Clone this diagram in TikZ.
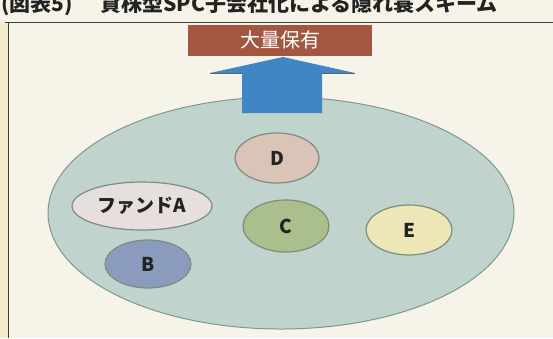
\documentclass[tikz,border=0pt]{standalone}
\usepackage{fontspec}
\newfontfamily\jp{Noto Sans CJK JP}
\usetikzlibrary{shapes.geometric}
\definecolor{bgcol}{RGB}{246,243,232}
\definecolor{stripcol}{RGB}{244,235,205}
\definecolor{framecol}{RGB}{60,60,60}
\definecolor{bannercol}{RGB}{163,86,64}
\definecolor{arrowcol}{RGB}{64,134,196}
\definecolor{bigfill}{RGB}{192,211,204}
\definecolor{bigdraw}{RGB}{130,150,145}
\definecolor{dfill}{RGB}{217,196,183}
\definecolor{cfill}{RGB}{170,191,139}
\definecolor{efill}{RGB}{237,230,183}
\definecolor{afill}{RGB}{231,223,222}
\definecolor{bfill}{RGB}{138,155,190}
\definecolor{smalldraw}{RGB}{125,140,125}
\definecolor{txtcol}{RGB}{35,35,35}
\tikzset{
  blob/.style={ellipse, draw=smalldraw, line width=1.2pt, inner sep=0pt,
    font=\jp\bfseries\fontsize{19}{19}\selectfont, text=txtcol},
  titletxt/.style={anchor=base west, inner sep=0pt, font=\jp\bfseries\fontsize{21}{21}\selectfont, text=txtcol},
}
\begin{document}
\begin{tikzpicture}[x=1pt,y=-1pt]
\useasboundingbox (0,0) rectangle (553,338);
\begin{scope}
\clip (0,0) rectangle (553,338);
\fill[bgcol] (0,0) rectangle (553,338);
\fill[stripcol] (0,22) rectangle (8,338);
% title (cut off at top, as in the reference)
\node[titletxt] (t1) at (1,11) {(図表5)};
\node[titletxt] (t2) at (100,11) {貸株型SPC子会社化による隠れ蓑スキーム};
\end{scope}
% frame
\draw[framecol, line width=0.9pt] (5,22) -- (553,22);
\draw[framecol, line width=0.9pt] (8,22) -- (8,338);
% big ellipse
\node[ellipse, draw=bigdraw, fill=bigfill, line width=1pt, minimum width=466pt, minimum height=232pt, inner sep=0pt] (big) at (281,213) {};
% banner
\node[fill=bannercol, minimum width=184pt, minimum height=31pt, inner sep=0pt, text=white, font=\jp\fontsize{20}{20}\selectfont] (banner) at (280,40) {大量保有};
% arrow
\coordinate (tip) at (283,57);
\fill[arrowcol] (242,113) -- (242,73) -- (210,73) -- (tip) -- (355,73) -- (322,73) -- (322,113) -- cycle;
\draw[framecol!80, line width=0.7pt] (210,73) -- (242,73);
\draw[framecol!80, line width=0.7pt] (322,73) -- (355,73);
% inner ellipses
\node[blob, fill=dfill, minimum width=84pt, minimum height=50pt] (D) at (277,158) {D};
\node[blob, fill=cfill, minimum width=86pt, minimum height=52pt] (C) at (286,226) {C};
\node[blob, fill=efill, minimum width=86pt, minimum height=50pt] (E) at (409,230) {E};
\node[blob, fill=afill, minimum width=140pt, minimum height=48pt] (A) at (142,206) {ファンドA};
\node[blob, fill=bfill, minimum width=86pt, minimum height=48pt] (B) at (148,264) {B};
\end{tikzpicture}
\end{document}
